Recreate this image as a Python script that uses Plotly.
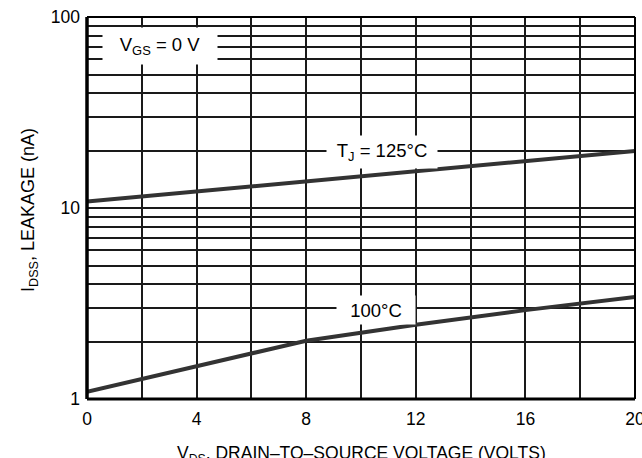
import plotly.graph_objects as go

# Data
vds = [0, 4, 8, 12, 16, 20]
idss_125 = [10.8, 12.2, 13.8, 15.5, 17.6, 19.9]
idss_100 = [1.09, 1.48, 2.02, 2.45, 2.92, 3.42]

x_grid_vals = [0, 2, 4, 6, 8, 10, 12, 14, 16, 18, 20]
x_tick_text = ["0", "", "4", "", "8", "", "12", "", "16", "", "20"]
y_grid_vals = [1, 2, 3, 4, 5, 6, 7, 8, 9, 10, 20, 30, 40, 50, 60, 70, 80, 90, 100]
y_tick_text = ["1"] + [""] * 8 + ["10"] + [""] * 8 + ["100"]

FONT = "Liberation Sans, Arial, Helvetica, sans-serif"
LINE = "#333333"
GRID = "#1a1a1a"

fig = go.Figure()
fig.add_trace(go.Scatter(x=vds, y=idss_125, mode="lines",
                         line=dict(color=LINE, width=4), showlegend=False))
fig.add_trace(go.Scatter(x=vds, y=idss_100, mode="lines",
                         line=dict(color=LINE, width=4), showlegend=False))

fig.update_layout(
    width=642, height=458,
    margin=dict(l=87, r=7, t=17, b=59, autoexpand=False),
    paper_bgcolor="white", plot_bgcolor="white",
    font=dict(family=FONT, size=17.5, color="black"),
    xaxis=dict(range=[0, 20], tickmode="array", tickvals=x_grid_vals,
               ticktext=x_tick_text, showgrid=True, gridcolor=GRID,
               gridwidth=1.5, zeroline=False, showline=False, ticks="",
               ticklabelstandoff=7, automargin=False,
               ticklabeloverflow="allow"),
    yaxis=dict(type="log", range=[0, 2], tickmode="array", tickvals=y_grid_vals,
               ticktext=y_tick_text, showgrid=True, gridcolor=GRID,
               gridwidth=1.5, zeroline=False, showline=False, ticks="",
               ticklabelstandoff=6, automargin=False,
               ticklabeloverflow="allow"),
)

# frame
fig.add_shape(type="line", xref="paper", yref="paper", x0=0, x1=0, y0=0, y1=1,
              line=dict(color="black", width=3.5))
fig.add_shape(type="line", xref="paper", yref="paper", x0=0, x1=1, y0=0, y1=0,
              line=dict(color="black", width=3))
fig.add_shape(type="line", xref="paper", yref="paper", x0=0, x1=1, y0=1, y1=1,
              line=dict(color="black", width=2))
fig.add_shape(type="line", xref="paper", yref="paper", x0=1, x1=1, y0=0, y1=1,
              line=dict(color="black", width=2))

# in-plot labels with white boxes
fig.add_annotation(x=2.66, y=1.848, xref="x", yref="y",
                   text="V<sub>GS</sub> = 0 V", showarrow=False,
                   bgcolor="white", width=112, height=34, borderpad=1,
                   font=dict(size=18.5))
fig.add_annotation(x=10.77, y=1.293, xref="x", yref="y",
                   text="T<sub>J</sub> = 125°C", showarrow=False,
                   bgcolor="white", width=108, height=30, borderpad=1,
                   font=dict(size=18.5))
fig.add_annotation(x=10.55, y=0.466, xref="x", yref="y",
                   text="100°C", showarrow=False,
                   bgcolor="white", width=76, height=26, borderpad=1,
                   font=dict(size=18.5))

# axis titles
fig.add_annotation(x=0.5, y=-0.145, xref="paper", yref="paper",
                   text="V<sub>DS</sub>, DRAIN–TO–SOURCE VOLTAGE (VOLTS)",
                   showarrow=False, xanchor="center", yanchor="middle",
                   font=dict(size=17.5))
fig.add_annotation(x=-0.104, y=0.495, xref="paper", yref="paper",
                   text="I<sub>DSS</sub>, LEAKAGE (nA)", textangle=-90,
                   showarrow=False, xanchor="center", yanchor="middle",
                   font=dict(size=18))

fig.write_html("out.html", config={"displayModeBar": False},
               post_script="document.body.style.margin='0';"
                           "document.body.style.overflow='hidden';")
